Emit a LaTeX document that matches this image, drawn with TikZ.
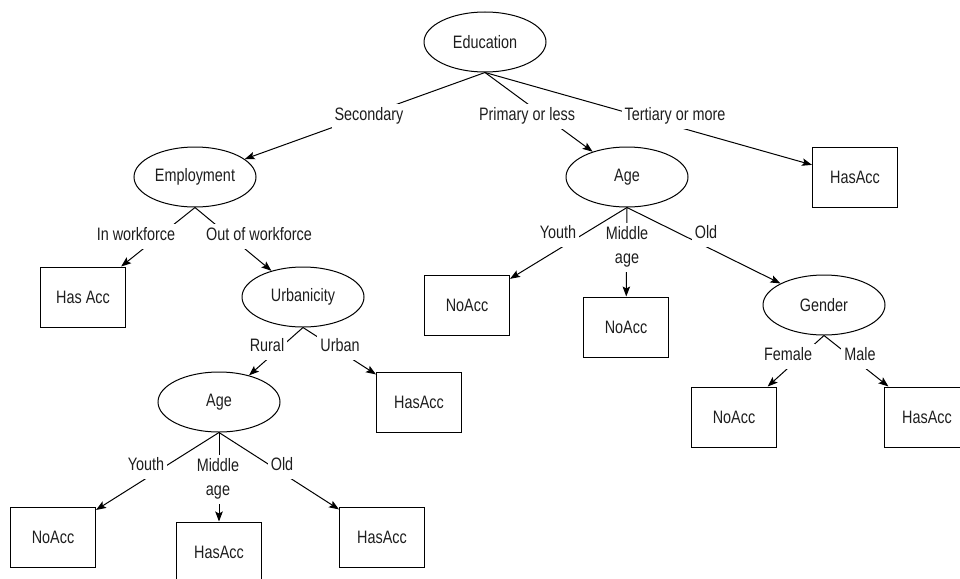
\documentclass[tikz,border=0pt]{standalone}
\usepackage{fontspec}
\setmainfont[FakeStretch=0.8]{Liberation Sans}
\usepackage{tikz}
\usetikzlibrary{shapes, arrows.meta, positioning}
\definecolor{inkgray}{RGB}{30, 30, 30}

\tikzset{
  split/.style={draw, ellipse, minimum width=122pt, minimum height=60pt, inner sep=0pt, line width=1pt},
  leaf/.style={draw, rectangle, minimum width=85pt, minimum height=60pt, inner sep=0pt, line width=1pt},
  branch/.style={fill=white, inner xsep=3pt, inner ysep=4pt, text height=13pt, text depth=4pt, align=center},
  arr/.style={line width=1pt, -{Stealth[length=10pt, width=7.5pt, inset=2pt]}}
}

\begin{document}
\begin{tikzpicture}[x=1pt, y=-1pt, font=\fontsize{18}{24}\selectfont, text=inkgray]
  \useasboundingbox (0,0) rectangle (960,578);

  % splits
  \node[split] (edu) at (485,42) {Education};
  \node[split] (emp) at (195,177) {Employment};
  \node[split] (agep) at (627,177) {Age};
  \node[split] (urb) at (303,297) {Urbanicity};
  \node[split] (ages) at (219,402) {Age};
  \node[split] (gen) at (824,305) {Gender};

  % leaves
  \node[leaf] (tert) at (855,177) {HasAcc};
  \node[leaf] (work) at (83,297) {Has Acc};
  \node[leaf] (urban) at (419,402) {HasAcc};
  \node[leaf] (syouth) at (53,537) {NoAcc};
  \node[leaf] (smid) at (219,552) {HasAcc};
  \node[leaf] (sold) at (382,537) {HasAcc};
  \node[leaf] (pyouth) at (467,305) {NoAcc};
  \node[leaf] (pmid) at (626,327) {NoAcc};
  \node[leaf] (female) at (734,417) {NoAcc};
  \node[leaf] (male) at (927,417) {HasAcc};

  % branches
  \draw[arr] (edu.south) -- (emp) node[branch] (lsec) at (369,116) {Secondary};
  \draw[arr] (edu.south) -- (agep) node[branch] (lprim) at (527,116) {Primary or less};
  \draw[arr] (edu.south) -- (tert) node[branch] (lter) at (675,116) {Tertiary or more};

  \draw[arr] (emp.south) -- (work) node[branch] (lin) at (136,236) {In workforce};
  \draw[arr] (emp.south) -- (urb) node[branch] (lout) at (259,236) {Out of workforce};

  \draw[arr] (urb.south) -- (ages) node[branch] (lrur) at (267,347) {Rural};
  \draw[arr] (urb.south) -- (urban) node[branch] (lurb) at (340,347) {Urban};

  \draw[arr] (ages.south) -- (syouth) node[branch] (lsy) at (146,466) {Youth};
  \draw[arr] (ages.south) -- (smid) node[branch, text height=37pt] (lsm) at (218,479) {Middle\\age};
  \draw[arr] (ages.south) -- (sold) node[branch] (lso) at (282,466) {Old};

  \draw[arr] (agep.south) -- (pyouth) node[branch] (lpy) at (558,234) {Youth};
  \draw[arr] (agep.south) -- (pmid) node[branch, text height=37pt] (lpm) at (627,247) {Middle\\age};
  \draw[arr] (agep.south) -- (gen) node[branch] (lpo) at (706,234) {Old};

  \draw[arr] (gen.south) -- (female) node[branch] (lfem) at (788,356) {Female};
  \draw[arr] (gen.south) -- (male) node[branch] (lmal) at (860,356) {Male};
\end{tikzpicture}
\end{document}
